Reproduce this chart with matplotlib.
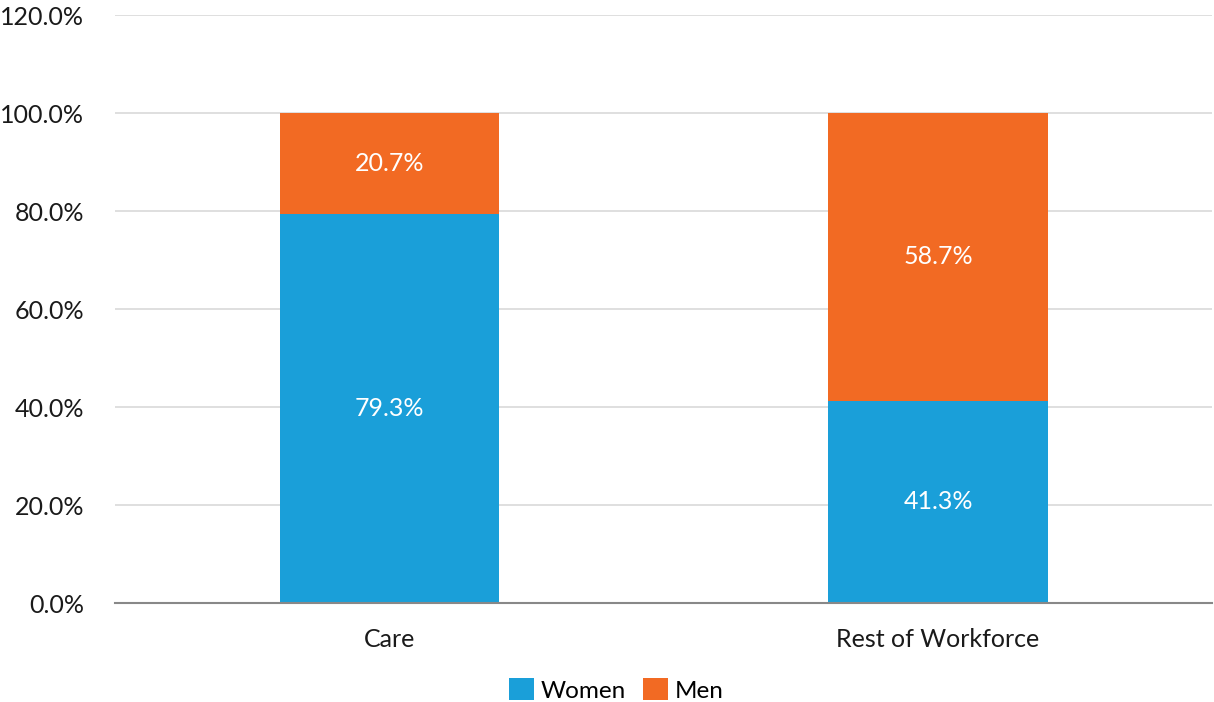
import numpy as np
import matplotlib.pyplot as plt
from matplotlib.ticker import FuncFormatter

categories = ['Care', 'Rest of Workforce']
women = [79.3, 41.3]
men = [20.7, 58.7]

blue = '#1A9FD9'
orange = '#F26A23'

plt.rcParams['font.family'] = ['Lato', 'DejaVu Sans']

fig = plt.figure(figsize=(12.14, 7.02), dpi=100)
ax = fig.add_axes([0.0947, 0.141, 0.904, 0.8376])

x = np.arange(len(categories))
b1 = ax.bar(x, women, width=0.4, color=blue, label='Women', zorder=3)
b2 = ax.bar(x, men, width=0.4, bottom=women, color=orange, label='Men', zorder=3)

for bars, vals, base in [(b1, women, [0, 0]), (b2, men, women)]:
    for rect, v, b in zip(bars, vals, base):
        ax.text(rect.get_x() + rect.get_width() / 2, b + v / 2, f'{v:.1f}%',
                ha='center', va='center', color='white', fontsize=18, zorder=4)

ax.set_xlim(-0.5, 1.5)
ax.set_ylim(0, 120)
ax.set_yticks(np.arange(0, 121, 20))
ax.yaxis.set_major_formatter(FuncFormatter(lambda v, p: f'{v:.1f}%'))
ax.set_xticks(x, labels=categories)
ax.grid(axis='y', color='#d9d9d9', linewidth=1.2, zorder=0)
for s in ['top', 'right', 'left']:
    ax.spines[s].set_visible(False)
ax.spines['bottom'].set_color('#888888')
ax.spines['bottom'].set_linewidth(1.5)
ax.spines['bottom'].set_zorder(5)
ax.tick_params(axis='both', length=0, labelsize=18, colors='#1a1a1a')
ax.tick_params(axis='y', pad=22)
ax.tick_params(axis='x', pad=18)

ax.legend(loc='center', bbox_to_anchor=(0.457, -0.148), ncol=2, frameon=False,
          fontsize=17.5, handlelength=1.0, handleheight=1.0, handletextpad=0.3,
          columnspacing=0.7, borderaxespad=0, borderpad=0)

fig.savefig('out.png', dpi=100)
